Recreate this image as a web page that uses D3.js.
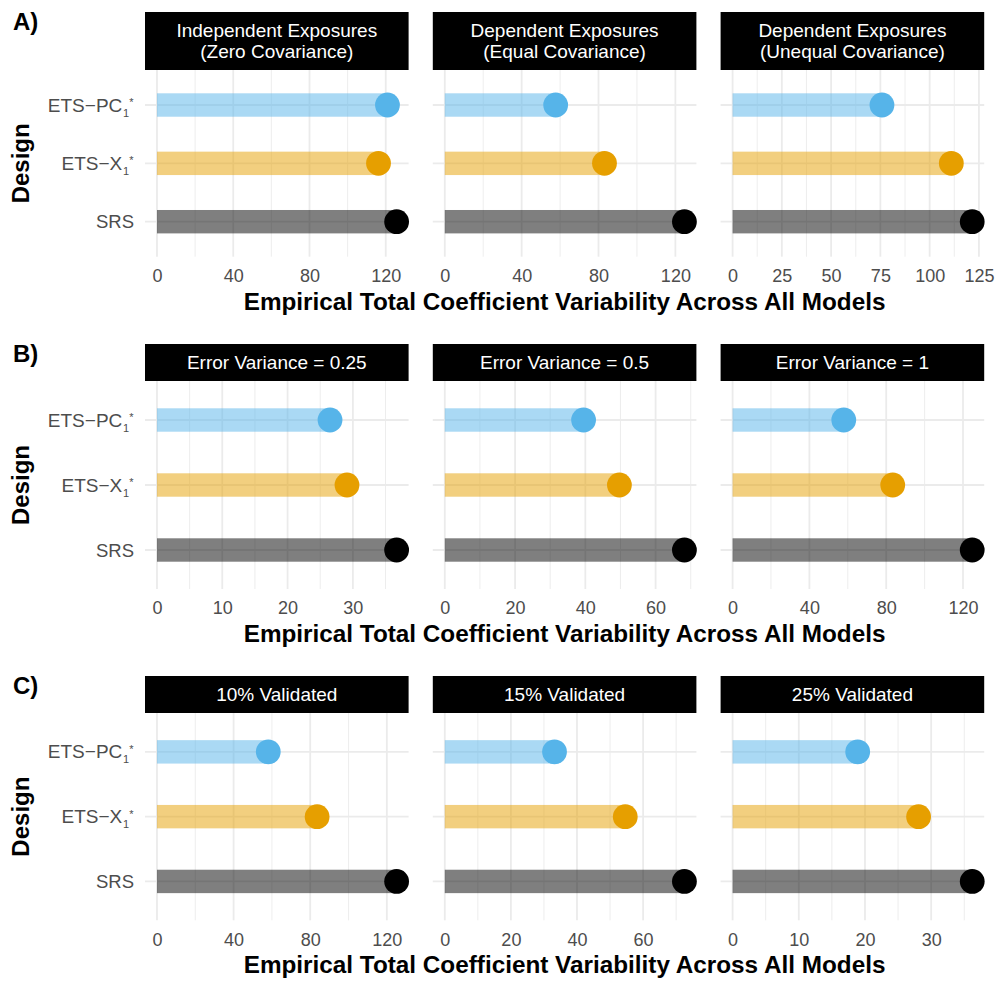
<!DOCTYPE html>
<html>
<head>
<meta charset="utf-8">
<script src="https://cdn.jsdelivr.net/npm/d3@7"></script>
<style>
  body { margin: 0; background: #fff; }
  svg { display: block; font-family: "Liberation Sans", Arial, sans-serif; }
</style>
</head>
<body>
<script>
// designs, top to bottom
const designs = ["ETS-PC", "ETS-X", "SRS"];
const designColors = ["#56B4E9", "#E69F00", "#000000"];
const rowLabels = ["A)", "B)", "C)"];

const titlesA = [["Independent Exposures", "(Zero Covariance)"], ["Dependent Exposures", "(Equal Covariance)"], ["Dependent Exposures", "(Unequal Covariance)"]];
const titlesB = [["Error Variance = 0.25"], ["Error Variance = 0.5"], ["Error Variance = 1"]];
const titlesC = [["10% Validated"], ["15% Validated"], ["25% Validated"]];

// values per facet: [ETS-PC, ETS-X, SRS]
const valuesA = [[120.9, 116.2, 125.7], [57.7, 83.1, 124.7], [75.8, 111.0, 121.6]];
const valuesB = [[26.5, 29.1, 36.7], [39.5, 49.7, 68.2], [57.9, 83.4, 124.8]];
const valuesC = [[58.1, 83.6, 125.1], [33.2, 54.6, 72.5], [18.9, 28.1, 36.2]];

const ticksA = [[0, 40, 80, 120], [0, 40, 80, 120], [0, 25, 50, 75, 100, 125]];
const ticksB = [[0, 10, 20, 30], [0, 20, 40, 60], [0, 40, 80, 120]];
const ticksC = [[0, 40, 80, 120], [0, 20, 40, 60], [0, 10, 20, 30]];

const xTitle = "Empirical Total Coefficient Variability Across All Models";

const rows = [
  {titles: titlesA, values: valuesA, ticks: ticksA, stripTop: 12, panelTop: 70, panelBottom: 256.7},
  {titles: titlesB, values: valuesB, ticks: ticksB, stripTop: 344, panelTop: 381, panelBottom: 589},
  {titles: titlesC, values: valuesC, ticks: ticksC, stripTop: 676, panelTop: 713, panelBottom: 920.3}
];

const W = 996, H = 996;
const panelLeft0 = 145, panelW = 263.6, panelGap = 24.2;
const grid = "#EBEBEB";

const svg = d3.select("body").append("svg").attr("width", W).attr("height", H);

rows.forEach((row, ri) => {
  const g = svg.append("g");

  // row letter
  g.append("text").text(rowLabels[ri])
    .attr("x", 13).attr("y", row.stripTop + 18)
    .attr("font-size", 24).attr("font-weight", "bold").attr("fill", "#000");

  const y = d3.scalePoint().domain(designs)
    .range([row.panelTop, row.panelBottom]).padding(0.6);

  // y title
  const yc = (row.panelTop + row.panelBottom) / 2;
  g.append("text").text("Design")
    .attr("transform", "translate(29," + yc + ") rotate(-90)")
    .attr("text-anchor", "middle")
    .attr("font-size", 24).attr("font-weight", "bold").attr("fill", "#000");

  // y tick labels (ETS ones carry subscript 1 and superscript *)
  designs.forEach((d, i) => {
    const yy = y(d) + 6.6;
    if (d === "SRS") {
      g.append("text").text(d).attr("x", 134).attr("y", yy)
        .attr("text-anchor", "end").attr("font-size", 18.5).attr("fill", "#4D4D4D");
    } else {
      const t = g.append("text").attr("x", 133.5).attr("y", yy)
        .attr("text-anchor", "end").attr("font-size", 19).attr("fill", "#4D4D4D");
      t.append("tspan").text(d.replace("-", "\u2212"));
      t.append("tspan").text("1").attr("font-size", 11).attr("dx", 0.8).attr("dy", 5);
      t.append("tspan").text("*").attr("font-size", 11).attr("dx", 0).attr("dy", -10.5);
    }
  });

  row.values.forEach((vals, fi) => {
    const left = panelLeft0 + fi * (panelW + panelGap);
    const M = d3.max(vals);
    const x = d3.scaleLinear().domain([-0.05 * M, 1.05 * M]).range([left, left + panelW]);
    const ticks = row.ticks[fi];
    const step = ticks[1] - ticks[0];
    const minor = [];
    for (let v = step / 2; v <= 1.05 * M; v += step) minor.push(v);

    const fg = g.append("g");

    // strip
    fg.append("rect").attr("x", left).attr("y", row.stripTop)
      .attr("width", panelW).attr("height", row.panelTop - row.stripTop)
      .attr("fill", "#000");
    const lines = row.titles[fi];
    const sc = (row.stripTop + row.panelTop) / 2;
    lines.forEach((t, li) => {
      fg.append("text").text(t)
        .attr("x", left + panelW / 2)
        .attr("y", sc + 6.8 + (li - (lines.length - 1) / 2) * 21)
        .attr("text-anchor", "middle").attr("font-size", 19).attr("fill", "#fff");
    });

    // grid
    fg.selectAll(".minor").data(minor).enter().append("line")
      .attr("x1", d => x(d)).attr("x2", d => x(d))
      .attr("y1", row.panelTop).attr("y2", row.panelBottom)
      .attr("stroke", grid).attr("stroke-width", 0.9);
    fg.selectAll(".major").data(ticks).enter().append("line")
      .attr("x1", d => x(d)).attr("x2", d => x(d))
      .attr("y1", row.panelTop).attr("y2", row.panelBottom)
      .attr("stroke", grid).attr("stroke-width", 1.8);
    fg.selectAll(".hgrid").data(designs).enter().append("line")
      .attr("x1", left).attr("x2", left + panelW)
      .attr("y1", d => y(d)).attr("y2", d => y(d))
      .attr("stroke", grid).attr("stroke-width", 1.8);

    // bars
    fg.selectAll(".bar").data(vals).enter().append("rect")
      .attr("x", x(0)).attr("y", (d, i) => y(designs[i]) - 11.7)
      .attr("width", d => x(d) - x(0)).attr("height", 23.4)
      .attr("fill", (d, i) => designColors[i]).attr("fill-opacity", 0.5);

    // points
    fg.selectAll(".pt").data(vals).enter().append("circle")
      .attr("cx", d => x(d)).attr("cy", (d, i) => y(designs[i]))
      .attr("r", 12.4).attr("fill", (d, i) => designColors[i]);

    // x axis
    const ax = fg.append("g").attr("transform", "translate(0," + row.panelBottom + ")")
      .call(d3.axisBottom(x).tickValues(ticks).tickSize(0).tickPadding(0).tickFormat(d3.format("d")));
    ax.select(".domain").remove();
    ax.selectAll("text").attr("y", 25.3).attr("dy", null)
      .attr("font-size", 18).attr("fill", "#4D4D4D")
      .attr("font-family", "Liberation Sans, Arial, sans-serif");
  });

  // x title
  const xl = panelLeft0, xr = panelLeft0 + 3 * panelW + 2 * panelGap;
  g.append("text").text(xTitle)
    .attr("x", (xl + xr) / 2).attr("y", row.panelBottom + 53)
    .attr("text-anchor", "middle")
    .attr("font-size", 24.3).attr("font-weight", "bold").attr("fill", "#000");
});
</script>
</body>
</html>
